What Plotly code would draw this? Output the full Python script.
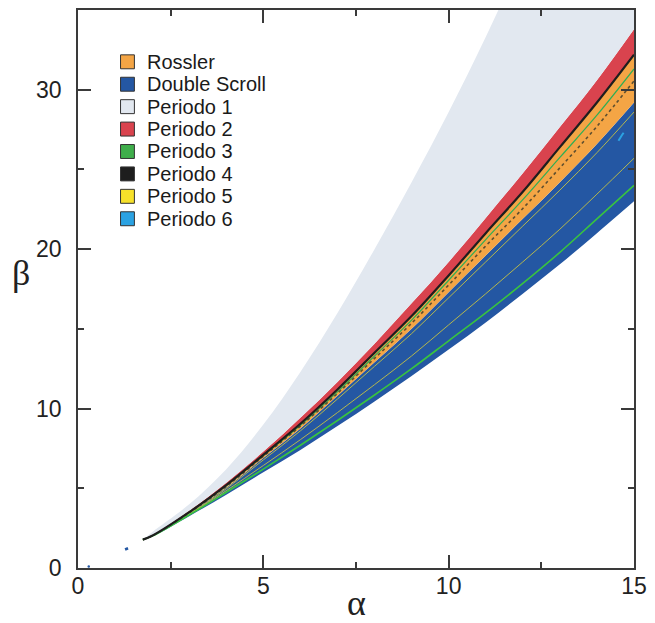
import plotly.graph_objects as go

# ---------------- data ----------------
ALPHA = [1.75, 2, 3, 4, 5, 6, 7, 8, 9, 10, 11, 12, 13, 14, 15]

# boundaries of the regions (beta values at ALPHA)
LOWER_DS   = [1.78, 1.97, 3.25, 4.6, 6.0, 7.4, 8.9, 10.45, 12.05, 13.7, 15.4, 17.2, 19.05, 21.0, 23.0]
ROSSLER_LO = [1.78, 2.00, 3.42, 5.05, 6.9, 8.75, 10.8, 12.9, 15.0, 17.3, 19.6, 21.9, 24.2, 26.6, 29.2]
PER4_LINE  = [1.78, 2.02, 3.50, 5.2, 7.1, 9.05, 11.2, 13.5, 15.8, 18.35, 21.0, 23.6, 26.4, 29.2, 32.2]
PER2_TOP   = [1.78, 2.05, 3.59, 5.35, 7.3, 9.42, 11.67, 14.07, 16.6, 19.2, 21.96, 24.76, 27.66, 30.6, 33.8]
PER1_TOP   = [1.78, 2.25, 4.0, 6.2, 9.0, 12.3, 16.0, 20.0, 24.2, 28.6, 33.3, 38.4, 43.8, 49.8, 56.0]

# thin lines inside the bands
PER3_LOW   = [1.78, 2.00, 3.33, 4.75, 6.2, 7.7, 9.25, 10.85, 12.5, 14.25, 16.0, 17.85, 19.8, 21.9, 24.0]
PER5_A     = [1.78, 2.00, 3.38, 4.97, 6.78, 8.6, 10.6, 12.65, 14.7, 16.95, 19.2, 21.45, 23.7, 26.05, 28.6]
PER5_B     = [1.78, 2.00, 3.36, 4.85, 6.43, 8.05, 9.75, 11.5, 13.3, 15.25, 17.2, 19.2, 21.25, 23.45, 25.7]
PER3_ROSS  = [1.78, 2.01, 3.47, 5.16, 7.04, 8.95, 11.05, 13.3, 15.55, 18.05, 20.6, 23.1, 25.75, 28.4, 31.3]
PER4_DOTS  = [1.78, 2.01, 3.46, 5.12, 7.0, 8.9, 10.95, 13.15, 15.35, 17.75, 20.2, 22.55, 25.1, 27.7, 30.55]

# isolated points (Double Scroll specks, Periodo 6 spot)
DS_DOT_A  = [0.29]
DS_DOT_B  = [0.10]
DS_DASH_A = [1.27, 1.35]
DS_DASH_B = [1.16, 1.24]
P6_PTS_A  = [14.58, 14.66, 14.72]
P6_PTS_B  = [26.8, 27.1, 27.3]

NAMES  = ["Rossler", "Double Scroll", "Periodo 1", "Periodo 2",
          "Periodo 3", "Periodo 4", "Periodo 5", "Periodo 6"]
COLORS = ["#f4a545", "#2457a3", "#e2e8f0", "#d9434e",
          "#3fae4b", "#1e1e1e", "#f7e12a", "#2ba2e2"]
C = dict(zip(NAMES, COLORS))

X_TICKS = [0, 5, 10, 15]
Y_TICKS = [0, 10, 20, 30]

# ---------------- figure ----------------
fig = go.Figure()

def band(y, fillcol=None):
    fig.add_trace(go.Scatter(
        x=ALPHA, y=y, mode="lines", line=dict(width=0, shape="spline"),
        fill="tonexty" if fillcol else None, fillcolor=fillcol,
        showlegend=False, hoverinfo="skip"))

band(LOWER_DS)
band(ROSSLER_LO, C["Double Scroll"])
band(PER4_LINE, C["Rossler"])
band(PER2_TOP, C["Periodo 2"])
band(PER1_TOP, C["Periodo 1"])

def line(y, color, width, dash="solid", opacity=1.0):
    fig.add_trace(go.Scatter(
        x=ALPHA, y=y, mode="lines",
        line=dict(color=color, width=width, dash=dash, shape="spline"),
        opacity=opacity, showlegend=False, hoverinfo="skip"))

line(PER5_B, "#d8cf3a", 1.0, opacity=0.8)
line(PER5_A, "#d8cf3a", 1.0, opacity=0.8)
line(PER3_LOW, "#39c43f", 1.6)
line(PER3_ROSS, "#2fae55", 1.2)
line(PER4_DOTS, "#3a3a2a", 1.6, dash="dot", opacity=0.8)
line(PER4_LINE, C["Periodo 4"], 2.2)

fig.add_trace(go.Scatter(x=DS_DOT_A, y=DS_DOT_B, mode="markers",
                         marker=dict(color=C["Double Scroll"], size=2.5),
                         showlegend=False, hoverinfo="skip"))
fig.add_trace(go.Scatter(x=DS_DASH_A, y=DS_DASH_B, mode="lines",
                         line=dict(color=C["Double Scroll"], width=2.5),
                         showlegend=False, hoverinfo="skip"))
fig.add_trace(go.Scatter(x=P6_PTS_A, y=P6_PTS_B, mode="lines",
                         line=dict(color=C["Periodo 6"], width=2, shape="spline"),
                         showlegend=False, hoverinfo="skip"))

# ---------------- axes ----------------
AX = dict(showgrid=False, zeroline=False, showline=True, linecolor="#3a3a3a",
          linewidth=1.5, mirror="ticks", ticks="inside", ticklen=13,
          tickwidth=1.5, tickcolor="#3a3a3a",
          tickfont=dict(family="Liberation Sans", size=23, color="#222"))
fig.update_xaxes(range=[0, 15], tickvals=X_TICKS, ticklabelstandoff=-3,
                 minor=dict(dtick=2.5, ticks="inside", ticklen=6,
                            tickwidth=1.5, tickcolor="#3a3a3a"), **AX)
fig.update_yaxes(range=[0, 35], tickvals=Y_TICKS, ticklabelstandoff=10,
                 minor=dict(dtick=5, ticks="inside", ticklen=6,
                            tickwidth=1.5, tickcolor="#3a3a3a"), **AX)

W, H = 655, 623
ML, MR, MT, MB = 78, 15, 8, 55
PW, PH = W - ML - MR, H - MT - MB

def px_x(p):  # pixel -> paper
    return (p - ML) / PW

def px_y(p):
    return (H - MB - p) / PH

annotations = [
    dict(text="α", x=7.5, xref="x", y=px_y(603), yref="paper", showarrow=False,
         font=dict(family="Liberation Serif", size=36, color="#222"),
         xanchor="center", yanchor="middle"),
    dict(text="β", x=px_x(20), xref="paper", y=px_y(272), yref="paper",
         showarrow=False, font=dict(family="Liberation Serif", size=36, color="#222"),
         xanchor="center", yanchor="middle"),
]
shapes = []
ROW = 22.5
for i, (name, col) in enumerate(zip(NAMES, COLORS)):
    yc = 60 + i * ROW
    shapes.append(dict(type="rect", xref="paper", yref="paper",
                       x0=px_x(121), x1=px_x(135), y0=px_y(yc + 7), y1=px_y(yc - 7),
                       fillcolor=col, line=dict(color="#333", width=1)))
    annotations.append(dict(text=name, xref="paper", yref="paper",
                            x=px_x(146), y=px_y(yc), showarrow=False,
                            xanchor="left", yanchor="middle",
                            font=dict(family="Liberation Sans", size=20, color="#1a1a1a")))

fig.update_layout(width=W, height=H, margin=dict(l=ML, r=MR, t=MT, b=MB),
                  paper_bgcolor="white", plot_bgcolor="white",
                  annotations=annotations, shapes=shapes, showlegend=False)

fig.write_html("out.html")
